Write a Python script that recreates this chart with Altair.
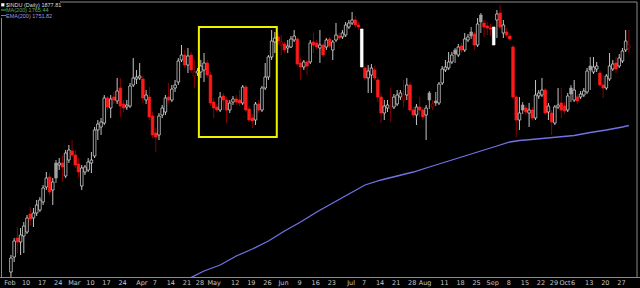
import altair as alt
import pandas as pd

# ---- daily candles (price level units), Feb 3 .. Oct 29 2014, one per weekday ----
open_lv = [28,43,62,58,64,68,86,82,87,90,
 98,113,123,110,137,135,137,124,140,149,
 145,136,114,128,130,137,144,170,173,177,
 202,192,203,199,212,196,193,194,215,221,
 222,221,200,203,184,167,165,185,188,203,
 200,212,218,240,245,235,245,224,227,228,
 230,237,225,198,193,190,204,200,190,198,
 201,200,197,213,191,182,180,196,190,212,
 223,243,258,263,255,256,252,253,260,261,
 237,233,238,238,258,257,252,255,253,261,
 250,260,264,263,265,273,277,280,275,271,
 232,222,225,230,220,203,187,192,191,193,
 196,203,200,205,215,190,185,193,190,185,
 207,193,199,197,217,230,232,238,250,245,
 254,250,260,268,266,255,285,277,274,272,
 273,280,287,267,268,264,253,203,180,195,
 192,187,190,182,204,205,210,188,187,177,
 193,197,194,190,212,200,203,203,205,208,
 234,228,231,227,215,212,221,231,237,234,
 239,250,252]
close_lv = [42,59,58,65,74,82,81,87,95,100,
 112,122,108,118,122,137,133,147,150,145,
 135,128,132,133,138,140,170,176,178,202,
 193,201,200,209,194,192,195,214,222,223,
 224,202,205,183,165,163,184,192,202,200,
 211,215,239,245,235,244,230,228,229,234,
 237,225,197,192,190,203,200,190,197,201,
 198,197,213,190,180,179,196,190,212,223,
 243,259,262,259,258,250,254,261,264,236,
 233,238,234,257,255,253,255,245,260,254,
 258,265,262,267,275,277,280,275,273,233,
 222,229,232,222,203,187,194,195,193,203,
 205,207,205,215,190,185,193,190,183,192,
 200,196,197,216,231,233,238,245,246,253,
 250,261,263,264,255,276,278,273,272,271,
 255,286,273,275,265,261,203,180,187,190,
 188,190,182,205,207,210,187,194,178,193,
 195,190,189,204,206,210,199,206,209,229,
 230,233,234,215,212,224,234,236,231,242,
 249,259,255]
high_lv = [45,62,73,72,78,85,93,92,100,103,
 115,128,127,122,140,142,145,150,155,160,
 150,142,135,135,142,148,173,180,182,205,
 204,205,208,222,222,200,200,217,242,230,
 237,224,210,213,188,172,187,195,205,217,
 215,220,242,255,250,252,248,240,232,240,
 247,240,228,202,196,208,207,203,200,204,
 205,210,215,215,194,186,198,200,214,237,
 245,270,268,267,265,258,260,264,270,263,
 242,240,240,260,267,260,270,257,262,263,
 260,277,267,270,278,280,288,284,278,271,
 234,235,236,234,223,207,200,200,212,206,
 210,210,220,222,218,193,196,203,193,195,
 209,200,208,218,234,240,248,248,252,256,
 257,267,266,273,268,282,287,280,278,276,
 273,290,295,280,272,267,255,205,203,198,
 195,197,193,220,210,222,212,197,190,195,
 212,212,198,207,215,220,206,209,212,232,
 243,243,238,230,225,226,247,240,243,246,
 252,270,270]
low_lv = [23,38,47,45,47,66,75,73,84,88,
 95,110,105,95,117,130,118,122,137,143,
 132,123,110,125,128,127,142,160,165,175,
 190,182,196,196,183,188,190,192,213,216,
 220,197,196,180,162,148,160,182,185,197,
 198,208,215,238,232,227,227,212,224,222,
 218,222,194,182,188,188,190,177,187,195,
 195,194,195,188,178,172,175,187,188,210,
 220,240,247,255,245,247,247,252,258,234,
 220,230,225,236,247,250,237,243,250,252,
 240,258,260,261,263,271,275,272,270,233,
 220,207,207,220,198,177,180,188,178,191,
 194,200,193,200,188,182,175,183,180,160,
 191,190,194,195,215,228,230,236,237,243,
 247,248,258,261,250,253,267,263,265,264,
 255,262,271,262,263,259,201,163,170,186,
 185,173,180,180,201,203,185,180,165,175,
 191,182,186,188,198,198,196,201,203,206,
 210,226,228,213,202,210,219,229,227,232,
 237,248,247]
holiday_dates = ["2014-07-04", "2014-09-01"]

# ---- EMA(200) read at sampled days (same units) ----
ema_i = [54,55,60,65,70,75,80,85,90,95,100,105,110,115,120,125,130,135,140,145,
         150,155,158,160,165,170,175,180,185,190,192]
ema_lv = [19,21,29,35,44,51,59,69,78,88,97,106,115,120,124,128,133,138,143,148,
          153,158,159.5,160,161.5,163,164.5,167.5,170,173,174.5]

# ---- highlighted box (day index range, level range) ----
box_i = [58.4, 82.6]
box_lv = [163, 273]

# ---- x-axis tick labels ----
label_dates = ["2014-02-03","2014-02-10","2014-02-17","2014-02-24","2014-03-03","2014-03-10",
 "2014-03-17","2014-03-24","2014-04-01","2014-04-07","2014-04-14","2014-04-21","2014-04-28",
 "2014-05-01","2014-05-12","2014-05-19","2014-05-26","2014-06-02","2014-06-09","2014-06-16",
 "2014-06-23","2014-07-01","2014-07-07","2014-07-14","2014-07-21","2014-07-28","2014-08-01",
 "2014-08-11","2014-08-18","2014-08-25","2014-09-01","2014-09-08","2014-09-15","2014-09-22",
 "2014-09-29","2014-10-01","2014-10-06","2014-10-13","2014-10-20","2014-10-27"]
label_text = ["Feb","10","17","24","Mar","10","17","24","Apr","7","14","21","28","May","12",
 "19","26","Jun","9","16","23","Jul","7","14","21","28","Aug","11","18","25","Sep","8","15",
 "22","29","Oct","6","13","20","27"]
# labels squeezed just before a month label are right-aligned at their tick
nudge_left = ["2014-04-28", "2014-09-29"]
month_after = ["2014-05-01", "2014-10-01"]

legend_lines = ["$INDU (Daily) 1877.81", "MA(200) 1765.44", "EMA(200) 1751.82"]

# ---- build tables ----
n = len(close_lv)
dates = pd.bdate_range("2014-02-03", periods=n)
df = pd.DataFrame({
    "i": list(range(n)),
    "date": dates.strftime("%Y-%m-%d"),
    "open": open_lv, "close": close_lv, "high": high_lv, "low": low_lv,
})
df["high"] = df[["high", "open", "close"]].max(axis=1)
df["low"] = df[["low", "open", "close"]].min(axis=1)
prev = df["close"].shift(1).fillna(df["open"])
up = df["close"] >= prev
hollow = df["close"] >= df["open"]
hol = df["date"].isin(holiday_dates)

def pick(u, h, ho, vals):
    if ho:
        return vals[4]
    if u and h:
        return vals[0]
    if u and not h:
        return vals[1]
    if (not u) and h:
        return vals[2]
    return vals[3]

FILL = ["#000000", "#a3a3a3", "#000000", "#ff1a1a", "#ffffff"]
STROKE = ["#e4e4e4", "#a3a3a3", "#b00000", "#ff1a1a", "#ffffff"]
WICK = ["#c4c4c4", "#a3a3a3", "#8a0000", "#8a0000", "#ffffff"]
df["fill"] = [pick(u, h, o, FILL) for u, h, o in zip(up, hollow, hol)]
df["stroke"] = [pick(u, h, o, STROKE) for u, h, o in zip(up, hollow, hol)]
df["wick"] = [pick(u, h, o, WICK) for u, h, o in zip(up, hollow, hol)]

ema_df = pd.DataFrame({"i": ema_i, "ema": ema_lv})
box_df = pd.DataFrame({"x0": [box_i[0]], "x1": [box_i[1]], "y0": [box_lv[0]], "y1": [box_lv[1]]})
date_pos = {d: k for k, d in enumerate(df["date"])}
lab_df = pd.DataFrame({
    "i": [date_pos[d] for d in label_dates],
    "t": label_text,
    "grp": ["L" if d in nudge_left else ("M" if d in month_after else "N") for d in label_dates],
})
one = pd.DataFrame({"a": [0]})

xs = alt.Scale(domain=[-1.223, 192.97], nice=False, zero=False)
ys = alt.Scale(domain=[23, 297], nice=False, zero=False)

wicks = alt.Chart(df).mark_rule(strokeWidth=1).encode(
    x=alt.X("i:Q", scale=xs, axis=None),
    y=alt.Y("low:Q", scale=ys, axis=None),
    y2="high:Q",
    color=alt.Color("wick:N", scale=None),
)
bodies = alt.Chart(df).mark_bar(size=2.6, strokeWidth=0.7).encode(
    x=alt.X("i:Q", scale=xs, axis=None),
    y=alt.Y("open:Q", scale=ys, axis=None),
    y2="close:Q",
    fill=alt.Fill("fill:N", scale=None),
    stroke=alt.Stroke("stroke:N", scale=None),
)
ema = alt.Chart(ema_df).mark_line(clip=True, color="#7272e6", strokeWidth=1.3).encode(
    x=alt.X("i:Q", scale=xs, axis=None),
    y=alt.Y("ema:Q", scale=ys, axis=None),
)
box = alt.Chart(box_df).mark_rect(filled=False, stroke="#f2f200", strokeWidth=2).encode(
    x=alt.X("x0:Q", scale=xs, axis=None), x2="x1:Q",
    y=alt.Y("y0:Q", scale=ys, axis=None), y2="y1:Q",
)

def label_layer(grp, dx, align):
    return alt.Chart(lab_df).transform_filter(alt.datum.grp == grp).mark_text(
        fontSize=6.5, color="#c8c8c8", baseline="middle", align=align, dx=dx, font="DejaVu Sans"
    ).encode(
        x=alt.X("i:Q", scale=xs, axis=None),
        y=alt.value(280),
        text="t:N",
    )

labels = [label_layer("N", -1, "center"), label_layer("L", 0, "right"), label_layer("M", 0.5, "center")]

border_col = "#8a8a8a"
def hrule(x1, x2, y):
    return alt.Chart(one).mark_rule(color=border_col, strokeWidth=1).encode(
        x=alt.value(x1), x2=alt.value(x2), y=alt.value(y))
def vrule(x, y1, y2):
    return alt.Chart(one).mark_rule(color=border_col, strokeWidth=1).encode(
        x=alt.value(x), y=alt.value(y1), y2=alt.value(y2))

borders = [hrule(58, 635, -1), hrule(-2, 638, 274.5), vrule(-0.5, 15, 274.5), vrule(635, -1, 274.5)]

leg_sq = alt.Chart(one).mark_square(color="#ffffff", size=10, opacity=1).encode(
    x=alt.value(0.8), y=alt.value(1.8))
leg_ma = alt.Chart(one).mark_rule(color="#33c433", strokeWidth=1).encode(
    x=alt.value(-1), x2=alt.value(4), y=alt.value(7))
leg_ema = alt.Chart(one).mark_rule(color="#7272e6", strokeWidth=1).encode(
    x=alt.value(-1), x2=alt.value(4), y=alt.value(12.5))
def leg_text(txt, y, col):
    return alt.Chart(pd.DataFrame({"t": [txt]})).mark_text(
        fontSize=5.5, color=col, align="left", baseline="middle", font="Liberation Sans"
    ).encode(x=alt.value(4), y=alt.value(y), text="t:N")

legend = [leg_sq, leg_ma, leg_ema,
          leg_text(legend_lines[0], 2, "#dcdcdc"),
          leg_text(legend_lines[1], 7, "#5fae5f"),
          leg_text(legend_lines[2], 12.5, "#9a9ae0")]

chart = alt.layer(wicks, bodies, ema, box, *labels, *borders, *legend).properties(
    width=635, height=274,
    padding={"left": 2, "top": 3, "right": 3, "bottom": 11},
    autosize=alt.AutoSizeParams(type="none"),
    background="#000000",
).configure_view(strokeWidth=0)

chart.save("out.html", embed_options={"renderer": "svg", "actions": False})
